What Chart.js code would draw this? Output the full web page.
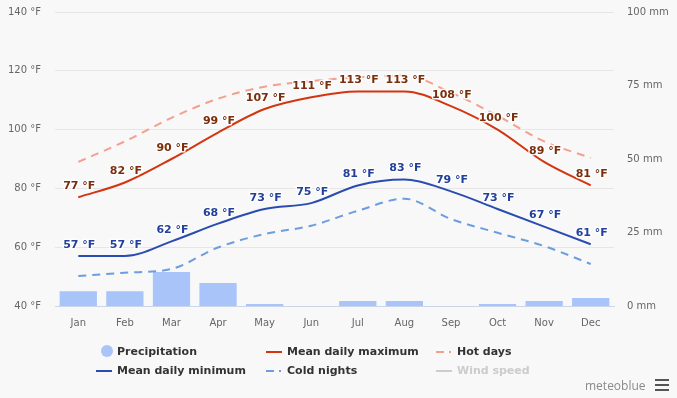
<!DOCTYPE html>
<html><head><meta charset="utf-8">
<script src="https://cdn.jsdelivr.net/npm/chart.js@4/dist/chart.umd.min.js"></script>
<style>
html,body{margin:0;padding:0;background:#f8f8f8;}
#wrap{position:relative;width:677px;height:398px;background:#f8f8f8;overflow:hidden;font-family:"DejaVu Sans",Verdana,sans-serif;}
#c{position:absolute;left:0;top:-8px;}
.lg{position:absolute;font-weight:bold;font-size:11px;color:#333;white-space:nowrap;line-height:14px;}
.sym{position:absolute;}
#brand{position:absolute;left:585px;top:377px;font-size:12px;color:#8a8a8a;font-family:"Open Sans",sans-serif;}
.hb{position:absolute;left:655px;width:14px;height:2px;background:#555;}
</style></head>
<body><div id="wrap">
<canvas id="c" width="677" height="406"></canvas>
<div class="sym" style="left:101px;top:345px;width:12px;height:12px;border-radius:6px;background:#a9c4f8"></div>
<div class="lg" style="left:117px;top:345px">Precipitation</div>
<div class="sym" style="left:266px;top:351px;width:16px;height:2px;background:#d3350f"></div>
<div class="lg" style="left:287px;top:345px">Mean daily maximum</div>
<div class="sym" style="left:436px;top:351px;width:8px;height:2px;background:#f4a08f"></div>
<div class="sym" style="left:449px;top:351px;width:2px;height:2px;background:#f4a08f"></div>
<div class="lg" style="left:457px;top:345px">Hot days</div>
<div class="sym" style="left:96px;top:370px;width:16px;height:2px;background:#2a4cb1"></div>
<div class="lg" style="left:117px;top:364px">Mean daily minimum</div>
<div class="sym" style="left:266px;top:370px;width:8px;height:2px;background:#6c9de0"></div>
<div class="sym" style="left:279px;top:370px;width:2px;height:2px;background:#6c9de0"></div>
<div class="lg" style="left:287px;top:364px">Cold nights</div>
<div class="sym" style="left:436px;top:370px;width:16px;height:2px;background:#cccccc"></div>
<div class="lg" style="left:457px;top:364px;color:#cccccc">Wind speed</div>
<div id="brand">meteoblue</div>
<div class="hb" style="top:379px"></div><div class="hb" style="top:384px"></div><div class="hb" style="top:389px"></div>
</div>
<script>
const months = ["Jan","Feb","Mar","Apr","May","Jun","Jul","Aug","Sep","Oct","Nov","Dec"];
const meanMax = [77,82,90,99,107,111,113,113,108,100,89,81];
const meanMin = [57,57,62,68,73,75,81,83,79,73,67,61];
const hotDays = [89,96,104,110.5,114.6,116.5,117.8,118.4,112.6,104.7,96,90.4];
const coldNights = [50.2,51.3,52.6,59.9,64.5,67.3,72.4,76.5,69.6,64.9,60.4,54.3];
const precipitation = [5,5,11.6,7.8,0.7,0,1.7,1.7,0,0.7,1.7,2.7];
const tempTicks = [40,60,80,100,120,140];
const precipTicks = [0,25,50,75,100];

const labelPlugin = {
  id:'vlabels',
  afterDatasetsDraw(chart){
    const ctx = chart.ctx;
    chart.data.datasets.forEach((ds,i)=>{
      if(!ds.labelColor) return;
      const meta = chart.getDatasetMeta(i);
      meta.data.forEach((pt,j)=>{
        const t = ds.data[j] + ' °F';
        ctx.save();
        ctx.font = 'bold 11px "DejaVu Sans", Verdana, sans-serif';
        ctx.textAlign='center'; ctx.textBaseline='middle';
        ctx.lineWidth=3; ctx.strokeStyle='rgba(255,255,255,0.85)'; ctx.lineJoin='round';
        ctx.strokeText(t, pt.x+1, pt.y-11);
        ctx.fillStyle=ds.labelColor;
        ctx.fillText(t, pt.x+1, pt.y-11);
        ctx.restore();
      });
    });
  }
};

new Chart(document.getElementById('c'), {
  data:{
    labels: months,
    datasets:[
      {type:'line', label:'Mean daily maximum', data:meanMax, yAxisID:'y', borderColor:'#d3350f', borderWidth:2, pointRadius:0, cubicInterpolationMode:'monotone', labelColor:'#7a2e0c', order:1},
      {type:'line', label:'Hot days', data:hotDays, yAxisID:'y', borderColor:'#f4a08f', borderWidth:2, borderDash:[8,6], pointRadius:0, cubicInterpolationMode:'monotone', order:2},
      {type:'line', label:'Mean daily minimum', data:meanMin, yAxisID:'y', borderColor:'#2a4cb1', borderWidth:2, pointRadius:0, cubicInterpolationMode:'monotone', labelColor:'#23409c', order:1},
      {type:'line', label:'Cold nights', data:coldNights, yAxisID:'y', borderColor:'#6c9de0', borderWidth:2, borderDash:[8,6], pointRadius:0, cubicInterpolationMode:'monotone', order:2},
      {type:'bar', label:'Precipitation', data:precipitation, yAxisID:'y1', backgroundColor:'#a9c4f8', barPercentage:0.8, categoryPercentage:1.0, order:3}
    ]
  },
  options:{
    responsive:false, animation:false,
    layout:{padding:{top:4,bottom:66,left:0,right:0}},
    plugins:{legend:{display:false}, tooltip:{enabled:false}},
    scales:{
      x:{grid:{display:false}, border:{color:'#ccd6eb'}, ticks:{color:'#666', font:{family:'"DejaVu Sans", Verdana, sans-serif', size:10}, padding:3}},
      y:{position:'left', min:40, max:140, afterBuildTicks:a=>{a.ticks=tempTicks.map(v=>({value:v}));},
         grid:{color:'#e6e6e6', drawTicks:false}, border:{display:false},
         ticks:{color:'#666', font:{family:'"DejaVu Sans", Verdana, sans-serif', size:10}, padding:14, callback:v=>v+' °F'}, afterFit:s=>{s.width=55;}},
      y1:{position:'right', min:0, max:100, afterBuildTicks:a=>{a.ticks=precipTicks.map(v=>({value:v}));},
         grid:{display:false, drawTicks:false}, border:{display:false},
         ticks:{color:'#666', font:{family:'"DejaVu Sans", Verdana, sans-serif', size:10}, padding:13, callback:v=>v+' mm'}, afterFit:s=>{s.width=63;}}
    }
  },
  plugins:[labelPlugin]
});
</script>
</body></html>
